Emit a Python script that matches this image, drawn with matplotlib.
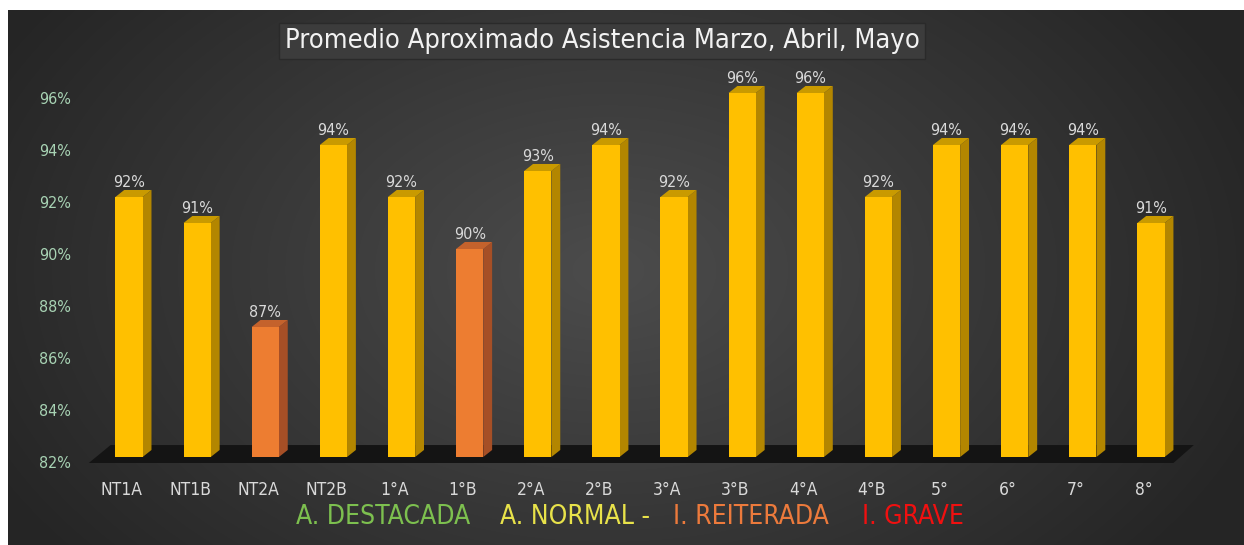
import numpy as np
import matplotlib
matplotlib.use("Agg")
import matplotlib.pyplot as plt
from matplotlib.patches import Polygon
from matplotlib.transforms import ScaledTranslation

# --- datos ---
cursos = ['NT1A', 'NT1B', 'NT2A', 'NT2B', '1°A', '1°B', '2°A', '2°B',
          '3°A', '3°B', '4°A', '4°B', '5°', '6°', '7°', '8°']
asistencia = [92, 91, 87, 94, 92, 90, 93, 94, 92, 96, 96, 92, 94, 94, 94, 91]
categoria = ['N', 'N', 'R', 'N', 'N', 'R', 'N', 'N',
             'N', 'N', 'N', 'N', 'N', 'N', 'N', 'N']
y_ticks = [82, 84, 86, 88, 90, 92, 94, 96]

titulo = 'Promedio Aproximado Asistencia Marzo, Abril, Mayo'
leyenda = [('A. DESTACADA', '#7DC04F'), ('A. NORMAL -', '#E8E24A'),
           ('I. REITERADA', '#EC7A3C'), ('I. GRAVE', '#F01010')]

colores = {'N': ('#FFC000', '#B38600', '#C99A00'),
           'R': ('#ED7D31', '#A64F26', '#C4622C')}

plt.rcParams['font.family'] = ['DejaVu Sans']
plt.rcParams['font.stretch'] = 'condensed'

W, H = 1244, 545
fig = plt.figure(figsize=(W / 100, H / 100), dpi=100)
fig.patch.set_facecolor('white')

# --- fondo con degradado radial ---
bg = fig.add_axes([8 / W, 0, 1 - 8 / W, 1 - 10 / H])
yy, xx = np.mgrid[0:535, 0:1236]
r = np.sqrt(((xx - 600) / 700.0) ** 2 + ((yy - 260) / 460.0) ** 2)
val = np.clip(0x4c - (0x4c - 0x25) * r, 0x25, 0x4c) / 255.0
bg.imshow(np.dstack([val, val, val]), aspect='auto', extent=(0, 1, 0, 1))
bg.set_axis_off()

# --- ejes principales (en pixeles) ---
px_left, px_right, px_top, px_bot = 88, 1205, 60, 470
ax = fig.add_axes([px_left / W, 1 - px_bot / H,
                   (px_right - px_left) / W, (px_bot - px_top) / H])
ax.patch.set_alpha(0)
x0_px, dxu = 129, 68.13          # pixel del primer curso y pixeles por unidad
y0_px, dyu = 457, 26.0           # pixel del 82% y pixeles por punto
ax.set_xlim(-(x0_px - px_left) / dxu, (px_right - x0_px) / dxu)
ax.set_ylim(82 - (px_bot - y0_px) / dyu, 96 + (y0_px - 14 * dyu - px_top) / dyu)
for s in ax.spines.values():
    s.set_visible(False)

x = np.arange(len(cursos))
ancho = 0.40
prof_x, prof_y = 0.13, 0.27
base = 82

# piso oscuro
xl, xr = x[0] - ancho / 2 - 0.39, x[-1] + ancho / 2 + 0.38
ax.add_patch(Polygon([(xl, base - 0.23), (xl + 0.32, base + 0.46),
                      (xr + 0.05, base + 0.46), (xr - 0.25, base - 0.23)],
                     closed=True, fc='#141414', ec='none', zorder=1))

for xi, v, c in zip(x, asistencia, categoria):
    frente, lado, tapa = colores[c]
    ax.bar(xi, v - base, ancho, bottom=base, color=frente, zorder=3)
    r_ = xi + ancho / 2
    l_ = xi - ancho / 2
    ax.add_patch(Polygon([(r_, base), (r_ + prof_x, base + prof_y),
                          (r_ + prof_x, v + prof_y), (r_, v)],
                         closed=True, fc=lado, ec='none', zorder=2))
    ax.add_patch(Polygon([(l_, v), (l_ + prof_x, v + prof_y),
                          (r_ + prof_x, v + prof_y), (r_, v)],
                         closed=True, fc=tapa, ec='none', zorder=3))
    ax.text(xi, v + prof_y + 0.12, f'{v}%', ha='center', va='baseline',
            color='#D9D9D9', fontsize=11.5, zorder=4)

ax.set_yticks(y_ticks)
ax.set_yticklabels([f'{t}%' for t in y_ticks], color='#A8D3B4', fontsize=11.5)
ax.set_xticks(x)
ax.set_xticklabels(cursos, color='#D9D9D9', fontsize=12.5)
ax.tick_params(axis='both', length=0)
ax.tick_params(axis='y', pad=12)
ax.tick_params(axis='x', pad=8)
off_y = ScaledTranslation(0, -5 / 100, fig.dpi_scale_trans)
for lab in ax.get_yticklabels():
    lab.set_transform(lab.get_transform() + off_y)
off_x = ScaledTranslation(-7 / 100, 0, fig.dpi_scale_trans)
for lab in ax.get_xticklabels():
    lab.set_transform(lab.get_transform() + off_x)

# titulo con caja
fig.text(602 / W, 1 - 41 / H, titulo, ha='center', va='center',
         color='#F2F2F2', fontsize=19.5,
         bbox=dict(boxstyle='square,pad=0.2', fc='#3C3C3C', ec='#2A2A2A', lw=1))

# leyenda de colores
xs = [296, 500, 673, 862]
for (txt, col), xp in zip(leyenda, xs):
    fig.text(xp / W, 1 - 517 / H, txt, ha='left', va='center',
             color=col, fontsize=19)

fig.savefig('out.png', dpi=100, facecolor=fig.get_facecolor())
